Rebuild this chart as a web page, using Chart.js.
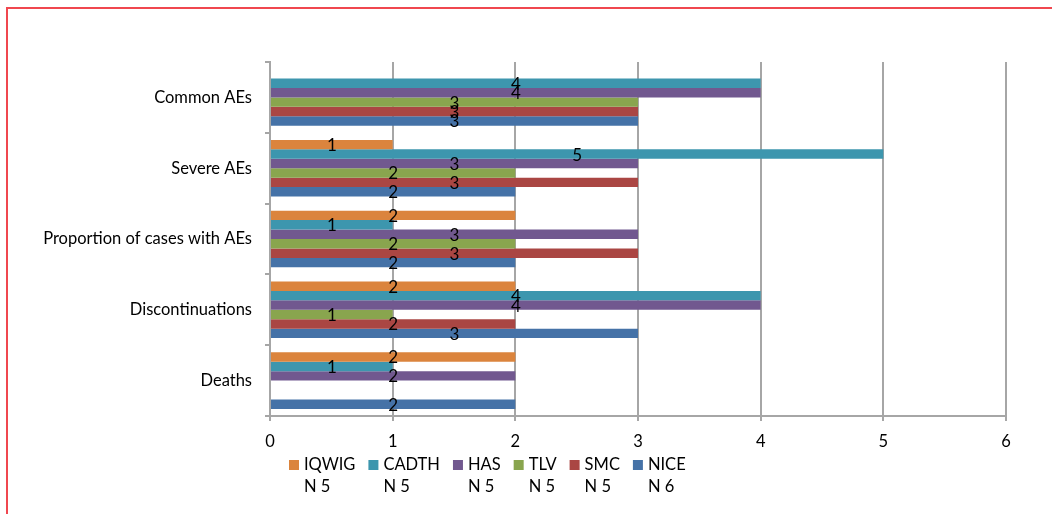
<!DOCTYPE html>
<html>
<head>
<meta charset="utf-8">
<script src="https://cdn.jsdelivr.net/npm/chart.js@4/dist/chart.umd.min.js"></script>
<style>
  body { margin: 0; background: #fff; }
  #wrap { position: relative; width: 1052px; height: 514px; overflow: hidden; }
  #frame { position: absolute; left: 6px; top: 7px; width: 1100px; height: 600px;
           border-left: 2px solid #f0474f; border-top: 2px solid #f0474f; }
  canvas { position: absolute; left: 0; top: 0; }
</style>
</head>
<body>
<div id="wrap">
  <div id="frame"></div>
  <canvas id="chart" width="1052" height="514"></canvas>
</div>
<script>

// categories, top to bottom
var categories = ['Common AEs', 'Severe AEs', 'Proportion of cases with AEs', 'Discontinuations', 'Deaths'];

// agencies and their N, in legend order
var agencies = ['IQWIG', 'CADTH', 'HAS', 'TLV', 'SMC', 'NICE'];
var agencyN = ['N 5', 'N 5', 'N 5', 'N 5', 'N 5', 'N 6'];
var colors = ['#DB843D', '#3D96AE', '#71588F', '#89A54E', '#AA4643', '#4572A7'];

// values per agency (null = no bar)
var iqwig = [null, 1, 2, 2, 2];
var cadth = [4, 5, 1, 4, 1];
var has   = [4, 3, 3, 4, 2];
var tlv   = [3, 2, 2, 1, null];
var smc   = [3, 3, 3, 2, null];
var nice  = [3, 2, 2, 3, 2];

var xTicks = [0, 1, 2, 3, 4, 5, 6];

var seriesValues = [iqwig, cadth, has, tlv, smc, nice];
var font = 'Lato';
var fontSize = 16.5;
var gray = '#a6a6a6';

var datasets = [];
for (var i = 0; i < agencies.length; i++) {
  datasets.push({
    label: agencies[i],
    data: seriesValues[i],
    backgroundColor: colors[i],
    borderWidth: 0,
    barPercentage: 1.0,
    categoryPercentage: 0.8
  });
}

// value written in the middle of each bar
var barLabels = {
  id: 'barLabels',
  afterDatasetsDraw: function (chart) {
    var ctx = chart.ctx;
    ctx.save();
    ctx.font = '17px ' + font;
    ctx.fillStyle = '#000';
    ctx.textAlign = 'center';
    ctx.textBaseline = 'middle';
    chart.data.datasets.forEach(function (ds, di) {
      var meta = chart.getDatasetMeta(di);
      meta.data.forEach(function (bar, j) {
        var v = ds.data[j];
        if (v === null || v === 0) return;
        ctx.fillText(String(v), (bar.x + bar.base) / 2, bar.y + 1);
      });
    });
    ctx.restore();
  }
};

// two-line legend under the axis
var twoLineLegend = {
  id: 'twoLineLegend',
  afterDraw: function (chart) {
    var ctx = chart.ctx;
    ctx.save();
    ctx.font = fontSize + 'px ' + font;
    ctx.textBaseline = 'middle';
    ctx.textAlign = 'left';
    var x = 289;
    var y1 = 465, y2 = 487;
    for (var i = 0; i < agencies.length; i++) {
      ctx.fillStyle = colors[i];
      ctx.fillRect(x, y1 - 5, 10, 10);
      ctx.fillStyle = '#000';
      ctx.fillText(agencies[i], x + 15, y1);
      ctx.fillText(agencyN[i], x + 15, y2);
      var w = Math.max(ctx.measureText(agencies[i]).width, ctx.measureText(agencyN[i]).width);
      x += 15 + w + 13;
    }
    ctx.restore();
  }
};

var ctx = document.getElementById('chart');
var myChart = new Chart(ctx, {
  type: 'bar',
  data: {
    labels: categories,
    datasets: datasets
  },
  options: {
    indexAxis: 'y',
    responsive: false,
    animation: false,
    layout: { padding: { left: 0, top: 62, right: 46, bottom: 63 } },
    plugins: {
      legend: { display: false },
      tooltip: { enabled: false }
    },
    scales: {
      x: {
        min: 0,
        max: 6,
        afterBuildTicks: function (scale) {
          scale.ticks = xTicks.map(function (v) { return { value: v }; });
        },
        afterFit: function (scale) { scale.height = 35; },
        grid: { color: gray, lineWidth: 2, drawTicks: true, tickLength: 5 },
        border: { display: true, color: gray, width: 2 },
        ticks: { color: '#000', font: { family: font, size: fontSize }, padding: 11 }
      },
      y: {
        afterFit: function (scale) { scale.width = 270; },
        grid: { drawOnChartArea: false, drawTicks: true, tickLength: 5, color: gray, lineWidth: 2 },
        border: { display: true, color: gray, width: 2 },
        ticks: { color: '#000', font: { family: font, size: fontSize }, padding: 13 }
      }
    }
  },
  plugins: [barLabels, twoLineLegend]
});

</script>
</body>
</html>
